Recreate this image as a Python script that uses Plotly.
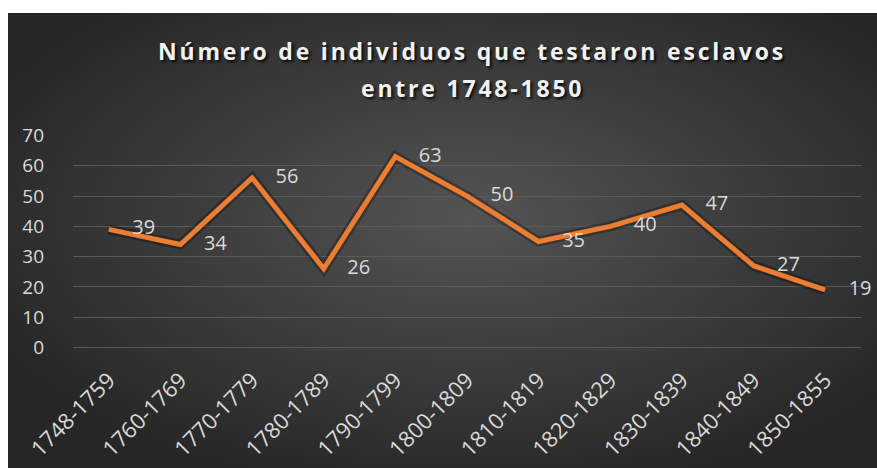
import base64
import plotly.graph_objects as go

categories = ["1748-1759", "1760-1769", "1770-1779", "1780-1789", "1790-1799",
              "1800-1809", "1810-1819", "1820-1829", "1830-1839", "1840-1849", "1850-1855"]
values = [39, 34, 56, 26, 63, 50, 35, 40, 47, 27, 19]
y_ticks = [0, 10, 20, 30, 40, 50, 60, 70]
title_line1 = "Número de individuos que testaron esclavos"
title_line2 = "entre 1748-1850"

W, H = 877, 468
L, R, T, B = 73, 16, 135, 120
pw, ph = W - L - R, H - T - B

# background radial gradient (Excel-like)
svg = ("<svg xmlns='http://www.w3.org/2000/svg' width='869' height='455' preserveAspectRatio='none'>"
       "<defs><radialGradient id='g' cx='0.53' cy='0.45' r='0.62'>"
       "<stop offset='0' stop-color='#545454'/><stop offset='1' stop-color='#262626'/>"
       "</radialGradient></defs><rect width='100%' height='100%' fill='url(#g)'/></svg>")
src = "data:image/svg+xml;base64," + base64.b64encode(svg.encode()).decode()
x0p = (8 - L) / pw
x1p = (W - L) / pw
y1p = 1 + (T - 13) / ph
y0p = 1 - (H - T) / ph

title_font = dict(family="Open Sans", size=23, color="#f2f2f2", weight="bold",
                  shadow="2px 2px 3px rgba(0,0,0,0.85)")

fig = go.Figure()
fig.add_trace(go.Scatter(
    x=categories, y=values, mode="lines",
    line=dict(color="rgba(0,0,0,0.28)", width=10, shape="linear"),
    hoverinfo="skip", showlegend=False))
fig.add_trace(go.Scatter(
    x=categories, y=values, mode="lines+markers+text",
    line=dict(color="#ED7D31", width=5),
    marker=dict(size=36, opacity=0, color="#ED7D31"),
    text=[str(v) for v in values], textposition="middle right",
    textfont=dict(family="Open Sans", size=20, color="#d9d9d9"),
    cliponaxis=False, showlegend=False))

fig.update_layout(
    width=W, height=H,
    margin=dict(l=L, r=R, t=T, b=B, autoexpand=False),
    paper_bgcolor="white", plot_bgcolor="rgba(0,0,0,0)",
    images=[dict(source=src, xref="paper", yref="paper", x=x0p, y=y1p,
                 sizex=x1p - x0p, sizey=y1p - y0p, sizing="stretch",
                 xanchor="left", yanchor="top", layer="below")],
    title=dict(text=title_line1, xref="container", yref="container",
               x=472 / W, xanchor="center", y=1 - 52 / H, yanchor="middle",
               automargin=False, font=title_font),
    annotations=[dict(text=title_line2, xref="paper", yref="paper",
                      x=(472 - L) / pw, y=1 + (T - 88) / ph, xanchor="center",
                      yanchor="middle", showarrow=False, font=title_font)],
    xaxis=dict(showgrid=False, zeroline=False, showline=False, tickangle=-45,
               range=[-0.5, len(categories) - 0.5],
               ticklabelstandoff=14, automargin=False,
               tickfont=dict(family="Open Sans", size=22, color="#d9d9d9")),
    yaxis=dict(range=[-0.15, 70.15], tickvals=y_ticks, showgrid=True, gridcolor="#5a5a5a",
               gridwidth=1, zeroline=True, zerolinecolor="#5a5a5a", zerolinewidth=1,
               showline=False, ticklabelstandoff=28, automargin=False,
               tickfont=dict(family="Open Sans", size=19, color="#d9d9d9")),
)

post = """
document.documentElement.style.margin='0';
document.body.style.margin='0';
document.body.style.padding='0';
var gd = document.getElementById('{plot_id}');
function ls(){
  document.querySelectorAll('.gtitle, .annotation-text').forEach(function(e){ e.style.letterSpacing='2.8px'; });
}
ls();
if (gd && gd.on) { gd.on('plotly_afterplot', ls); }
"""
fig.write_html("out.html", post_script=post, config={"displayModeBar": False})
